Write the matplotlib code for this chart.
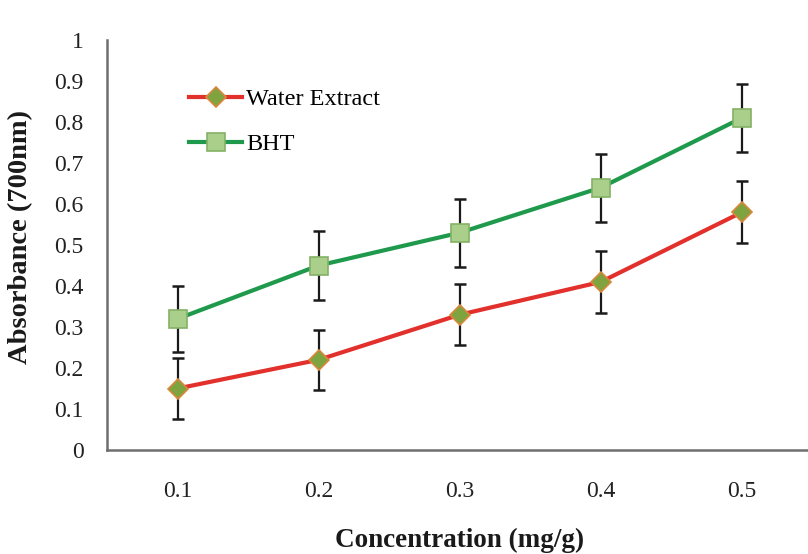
import matplotlib.pyplot as plt
import numpy as np

plt.rcParams['font.family'] = ['Liberation Serif', 'DejaVu Serif']

# data
concentration = ['0.1', '0.2', '0.3', '0.4', '0.5']
water_extract = [0.15, 0.22, 0.33, 0.41, 0.58]
water_err = [0.075, 0.073, 0.075, 0.076, 0.075]
bht = [0.32, 0.45, 0.53, 0.64, 0.81]
bht_err = [0.08, 0.083, 0.083, 0.083, 0.083]

fig = plt.figure(figsize=(8.08, 5.54), dpi=100)
# axes runs a little past the right edge, like the cropped original
ax = fig.add_axes([107 / 808, 104 / 554, 705.5 / 808, 410 / 554])

x = np.arange(len(concentration))

# error bars first so the markers sit on top
ax.errorbar(x, water_extract, yerr=water_err, fmt='none', ecolor='#1a1a1a',
            elinewidth=1.6, capsize=4.5, capthick=1.8, zorder=2)
ax.errorbar(x, bht, yerr=bht_err, fmt='none', ecolor='#1a1a1a',
            elinewidth=1.6, capsize=4.5, capthick=1.8, zorder=2)

ax.plot(x, water_extract, color='#e2302c', linewidth=3, marker='D', markersize=10,
        markerfacecolor='#7fa33f', markeredgecolor='#d9873a', markeredgewidth=1.2,
        label='Water Extract', zorder=3)
ax.plot(x, bht, color='#1f9a4c', linewidth=3, marker='s', markersize=13,
        markerfacecolor='#a9cf8a', markeredgecolor='#84b266', markeredgewidth=1.2,
        label='BHT', zorder=3)

ax.set_xlim(-0.5, len(concentration) - 0.5)
ax.set_ylim(0, 1)
ax.set_xticks(x)
ax.set_xticklabels(concentration)
ax.set_yticks(np.arange(0, 1.01, 0.1))
ax.set_yticklabels(['0', '0.1', '0.2', '0.3', '0.4', '0.5', '0.6', '0.7', '0.8', '0.9', '1'])
ax.tick_params(axis='both', length=0, labelsize=17, colors='#222222')
ax.tick_params(axis='y', pad=17)
ax.tick_params(axis='x', pad=22)

for side in ['top', 'right']:
    ax.spines[side].set_visible(False)
for side in ['left', 'bottom']:
    ax.spines[side].set_color('#6e6e6e')
    ax.spines[side].set_linewidth(1.8)

ax.set_xlabel('Concentration (mg/g)', fontsize=19.5, fontweight='bold', va='center', color='#1a1a1a')
ax.xaxis.set_label_coords(0.5, -0.22)
ax.set_ylabel('Absorbance (700nm)', fontsize=20.5, fontweight='bold', va='center', color='#1a1a1a')
ax.yaxis.set_label_coords(-0.122, 0.52)

ax.legend(loc='upper left', bbox_to_anchor=(189 / 808, 1 - 88 / 554),
          bbox_transform=fig.transFigure, frameon=False, fontsize=17.5,
          handlelength=2.2, handletextpad=0.15, labelspacing=0.95,
          borderpad=0, borderaxespad=0)

fig.savefig('out.png', dpi=100)
